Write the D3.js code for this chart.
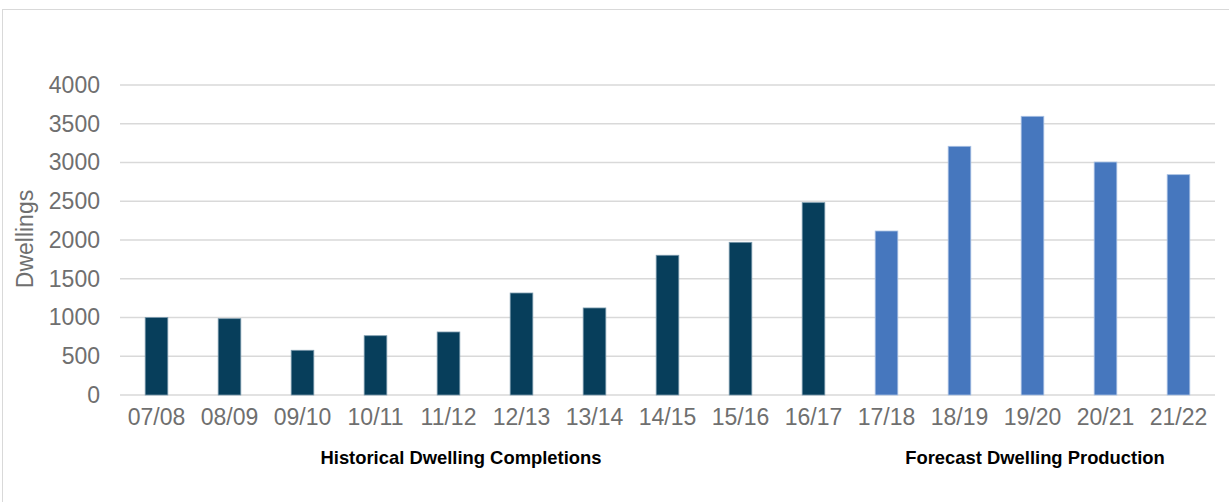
<!DOCTYPE html>
<html>
<head>
<meta charset="utf-8">
<script src="https://cdn.jsdelivr.net/npm/d3@7"></script>
<style>
  body { margin: 0; background: #fff; }
  svg { display: block; }
</style>
</head>
<body>
<svg id="chart" width="1229" height="502"></svg>
<script>
// data
var years = ["07/08", "08/09", "09/10", "10/11", "11/12", "12/13", "13/14", "14/15",
             "15/16", "16/17", "17/18", "18/19", "19/20", "20/21", "21/22"];
var dwellings = [1000, 985, 577, 765, 813, 1316, 1123, 1803, 1970, 2482,
                 2116, 3209, 3596, 3006, 2843];
var forecastFrom = "17/18";
var yTicks = [0, 500, 1000, 1500, 2000, 2500, 3000, 3500, 4000];
var groupLabels = ["Historical Dwelling Completions", "Forecast Dwelling Production"];

var svg = d3.select("#chart");
// plot area (note: "top" is taken by window, so use other names)
var plotLeft = 120, plotRight = 1215, plotTop = 85, plotBottom = 395;
var textGrey = "#6f6f6f";

// outer frame, like the pasted chart box
svg.append("rect")
    .attr("x", 2.5).attr("y", 9.5)
    .attr("width", 1240).attr("height", 510)
    .attr("fill", "none")
    .attr("stroke", "#d9d9d9")
    .attr("stroke-width", 1);

var x = d3.scaleBand()
    .domain(years)
    .range([plotLeft, plotRight])
    .paddingInner(0.69)
    .paddingOuter(0.345);

var y = d3.scaleLinear()
    .domain([0, 4000])
    .range([plotBottom, plotTop]);

// gridlines
svg.append("g")
    .selectAll("line")
    .data(yTicks)
    .enter()
    .append("line")
    .attr("x1", plotLeft)
    .attr("x2", plotRight)
    .attr("y1", d => y(d))
    .attr("y2", d => y(d))
    .attr("stroke", "#d9d9d9")
    .attr("stroke-width", 1.5);

// y axis labels
var yAxis = d3.axisLeft(y)
    .tickValues(yTicks)
    .tickFormat(d3.format("d"))
    .tickSize(0)
    .tickPadding(0);
var gy = svg.append("g")
    .attr("transform", "translate(100,0)")
    .call(yAxis);
gy.select(".domain").remove();
gy.selectAll("text")
    .attr("font-family", "'Liberation Sans', Arial, sans-serif")
    .attr("font-size", 23)
    .attr("fill", textGrey);

// x axis labels
var xAxis = d3.axisBottom(x).tickSize(0).tickPadding(0);
var gx = svg.append("g")
    .attr("transform", "translate(0," + (plotBottom + 14) + ")")
    .call(xAxis);
gx.select(".domain").remove();
gx.selectAll("text")
    .attr("font-family", "'Liberation Sans', Arial, sans-serif")
    .attr("font-size", 23)
    .attr("fill", textGrey);

// bars
var forecastIndex = years.indexOf(forecastFrom);
svg.append("g")
    .selectAll("rect")
    .data(years)
    .enter()
    .append("rect")
    .attr("x", d => x(d))
    .attr("width", x.bandwidth())
    .attr("y", (d, i) => y(dwellings[i]))
    .attr("height", (d, i) => y(0) - y(dwellings[i]))
    .attr("fill", (d, i) => i >= forecastIndex ? "#4677be" : "#073e5b")
    .attr("stroke", (d, i) => i >= forecastIndex ? "#a9c1e3" : "#7b9aad")
    .attr("stroke-width", 0.8);

// y title
svg.append("text")
    .attr("transform", "translate(33,239) rotate(-90)")
    .attr("text-anchor", "middle")
    .attr("font-family", "'Liberation Sans', Arial, sans-serif")
    .attr("font-size", 23)
    .attr("fill", textGrey)
    .text("Dwellings");

// group captions under the axis
svg.selectAll(".group")
    .data(groupLabels)
    .enter()
    .append("text")
    .attr("class", "group")
    .attr("x", (d, i) => i == 0 ? 461 : 1035)
    .attr("y", 464)
    .attr("text-anchor", "middle")
    .attr("font-family", "'Liberation Sans Narrow', 'Liberation Sans', sans-serif")
    .attr("font-weight", "bold")
    .attr("font-size", 18.4)
    .attr("fill", "#000")
    .text(d => d);
</script>
</body>
</html>
